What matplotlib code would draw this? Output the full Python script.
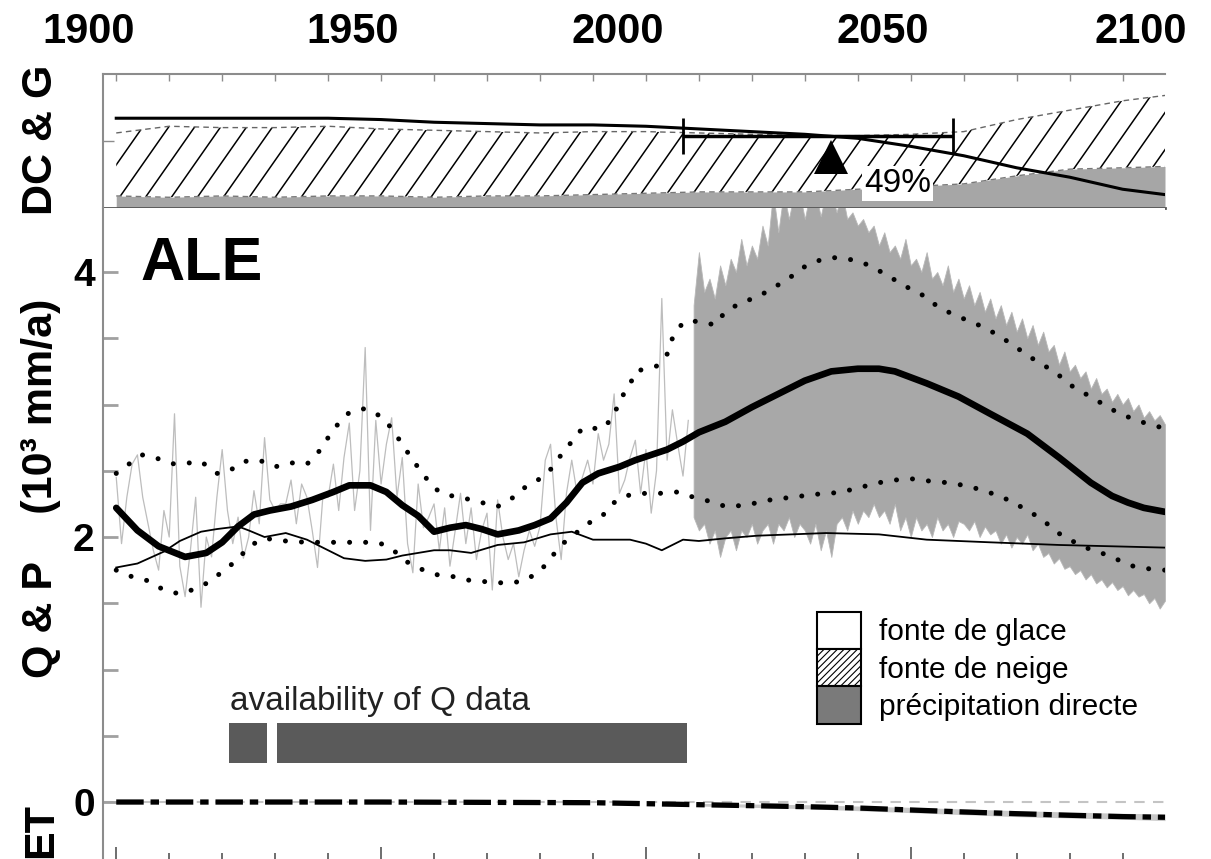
import numpy as np
import matplotlib
matplotlib.use("Agg")
import matplotlib.pyplot as plt
from matplotlib.patches import Patch
from matplotlib.collections import LineCollection
from matplotlib.transforms import blended_transform_factory

plt.rcParams['font.family'] = ['Liberation Sans', 'DejaVu Sans']
plt.rcParams['hatch.linewidth'] = 0.8

# ---------------- data ----------------
# top panel (DC & G): cumulative fractions of discharge contributions
top_years = [1900, 1910, 1920, 1930, 1940, 1950, 1960, 1970, 1980, 1990, 2000,
             2010, 2020, 2030, 2040, 2050, 2060, 2070, 2080, 2090, 2098]
frac_precip = [0.09, 0.08, 0.09, 0.08, 0.09, 0.09, 0.08, 0.09, 0.09, 0.10, 0.11,
               0.12, 0.12, 0.12, 0.14, 0.16, 0.18, 0.24, 0.29, 0.30, 0.31]
frac_snow_top = [0.56, 0.61, 0.60, 0.60, 0.61, 0.59, 0.58, 0.57, 0.56, 0.57, 0.57,
                 0.56, 0.55, 0.54, 0.54, 0.55, 0.57, 0.66, 0.73, 0.80, 0.84]
frac_glacier = [0.67, 0.67, 0.67, 0.67, 0.67, 0.66, 0.64, 0.63, 0.62, 0.62, 0.61,
                0.59, 0.57, 0.55, 0.52, 0.46, 0.39, 0.30, 0.23, 0.14, 0.10]
peak_year = 2035
peak_range = (2007, 2058)
peak_label = '49%'

# main panel: Q & P (10^3 mm/a)
hist_years = list(range(1900, 2009))
hist_q = [2.45, 1.95, 2.30, 2.55, 2.62, 2.30, 2.10, 1.90, 1.75, 2.20,
          2.00, 2.93, 1.78, 1.55, 1.90, 2.30, 1.47, 2.00, 1.85, 2.30,
          2.66, 2.20, 1.95, 2.15, 1.84, 2.00, 2.35, 2.10, 2.75, 2.28,
          2.20, 2.25, 2.25, 2.43, 2.10, 2.40, 2.30, 2.05, 1.77, 2.30,
          2.30, 2.55, 2.20, 2.60, 2.86, 2.20, 2.50, 3.43, 2.05, 2.88,
          2.40, 2.70, 2.90, 2.30, 2.60, 1.95, 1.73, 2.40, 2.07, 2.15,
          2.25, 1.90, 2.22, 1.78, 2.05, 2.33, 1.95, 2.22, 1.83, 2.05,
          2.18, 1.60, 2.28, 2.00, 1.83, 1.95, 1.70, 1.90, 2.05, 1.93,
          2.08, 2.58, 2.70, 2.15, 1.83, 2.33, 2.58, 2.33, 2.45, 2.58,
          2.40, 2.78, 2.58, 2.70, 3.08, 2.33, 2.43, 2.60, 2.73, 2.33,
          2.66, 2.18, 2.50, 3.80, 2.58, 2.96, 2.70, 2.46, 2.88]

ens_years = list(range(2009, 2099))
ens_hi = [3.75,
          4.15, 3.85, 3.95, 3.80, 4.05, 3.90, 4.10, 4.00, 4.25, 4.05,
          4.20, 4.10, 4.35, 4.20, 4.60, 4.30, 4.60, 4.40, 4.60, 4.60,
          4.40, 4.60, 4.60, 4.42, 4.60, 4.60, 4.45, 4.60, 4.40, 4.45,
          4.35, 4.40, 4.30, 4.35, 4.20, 4.30, 4.15, 4.20, 4.10, 4.25,
          4.05, 4.10, 4.00, 4.15, 3.95, 4.00, 3.90, 4.05, 3.85, 3.95,
          3.80, 3.90, 3.75, 3.85, 3.70, 3.80, 3.65, 3.75, 3.60, 3.70,
          3.55, 3.65, 3.50, 3.60, 3.45, 3.55, 3.40, 3.45, 3.30, 3.40,
          3.25, 3.30, 3.20, 3.25, 3.12, 3.20, 3.08, 3.12, 3.02, 3.08,
          3.00, 3.05, 2.95, 3.00, 2.90, 2.95, 2.88, 2.92, 2.85]
ens_lo = [2.15,
          2.05, 2.10, 1.95, 2.05, 1.85, 2.00, 2.05, 1.90, 2.05, 2.00,
          2.10, 1.95, 2.05, 2.10, 1.95, 2.10, 2.05, 2.15, 2.00, 2.10,
          2.05, 1.95, 2.10, 1.90, 2.05, 1.85, 2.10, 2.15, 2.05, 2.20,
          2.10, 2.20, 2.15, 2.25, 2.15, 2.20, 2.10, 2.25, 2.05, 2.15,
          2.00, 2.15, 2.05, 2.10, 2.00, 2.15, 2.05, 2.10, 2.00, 2.12,
          2.10, 2.05, 2.12, 2.00, 2.08, 2.02, 2.05, 1.95, 2.02, 1.92,
          2.00, 1.95, 2.02, 1.90, 1.95, 1.85, 1.88, 1.80, 1.84, 1.76,
          1.78, 1.72, 1.75, 1.68, 1.72, 1.65, 1.68, 1.62, 1.66, 1.60,
          1.63, 1.56, 1.60, 1.55, 1.57, 1.50, 1.54, 1.46, 1.52]

q_years = [1900, 1904, 1908, 1913, 1917, 1920, 1923, 1926, 1929, 1933, 1937, 1941,
           1944, 1948, 1951, 1954, 1957, 1960, 1963, 1966, 1969, 1972, 1976, 1979,
           1982, 1985, 1988, 1991, 1995, 1998, 2001, 2004, 2007, 2010, 2015, 2020,
           2025, 2030, 2035, 2040, 2044, 2047, 2053, 2059, 2065, 2072, 2078, 2084,
           2088, 2091, 2094, 2098]
q_smooth = [2.22, 2.05, 1.93, 1.85, 1.88, 1.96, 2.08, 2.17, 2.20, 2.23, 2.28, 2.34,
            2.39, 2.39, 2.34, 2.24, 2.16, 2.04, 2.07, 2.09, 2.06, 2.02, 2.05, 2.09,
            2.14, 2.26, 2.41, 2.48, 2.53, 2.58, 2.62, 2.66, 2.72, 2.79, 2.87, 2.98,
            3.08, 3.18, 3.25, 3.27, 3.27, 3.25, 3.16, 3.06, 2.93, 2.78, 2.60, 2.41,
            2.31, 2.26, 2.22, 2.19]

p_years = [1900, 1904, 1909, 1912, 1916, 1919, 1923, 1925, 1928, 1932, 1936, 1940,
           1943, 1947, 1951, 1954, 1960, 1963, 1967, 1972, 1977, 1982, 1986, 1990,
           1997, 2000, 2003, 2007, 2010, 2015, 2021, 2034, 2044, 2053, 2065, 2078,
           2098]
p_smooth = [1.77, 1.80, 1.89, 1.97, 2.04, 2.06, 2.08, 2.05, 2.00, 2.03, 1.98, 1.90,
            1.84, 1.82, 1.83, 1.86, 1.90, 1.90, 1.88, 1.94, 1.96, 2.02, 2.04, 1.98,
            1.98, 1.95, 1.90, 1.98, 1.97, 1.99, 2.01, 2.03, 2.02, 1.98, 1.96, 1.94,
            1.92]

up_years = [1900, 1902, 1905, 1908, 1911, 1914, 1916, 1919, 1921, 1924,
            1927, 1930, 1933, 1936, 1938, 1940, 1942, 1944, 1947, 1950,
            1952, 1954, 1956, 1958, 1960, 1962, 1965, 1969, 1972, 1975,
            1977, 1980, 1982, 1984, 1986, 1988, 1992, 1994, 1995, 1997,
            1998, 2002, 2004, 2005, 2007, 2010, 2013, 2015, 2018, 2021,
            2024, 2027, 2029, 2032, 2035, 2038, 2041, 2044, 2047, 2050,
            2053, 2055, 2058, 2061, 2064, 2067, 2070, 2072, 2075, 2078,
            2080, 2083, 2086, 2089, 2092, 2095, 2098]
up_vals = [2.48, 2.54, 2.62, 2.59, 2.55, 2.56, 2.57, 2.48, 2.49, 2.57,
           2.58, 2.53, 2.56, 2.55, 2.63, 2.75, 2.86, 2.94, 2.97, 2.91,
           2.82, 2.70, 2.58, 2.47, 2.37, 2.32, 2.30, 2.26, 2.23, 2.30,
           2.37, 2.44, 2.51, 2.62, 2.72, 2.82, 2.82, 2.92, 3.03, 3.15,
           3.25, 3.29, 3.38, 3.50, 3.62, 3.63, 3.60, 3.70, 3.77, 3.81,
           3.88, 3.95, 4.02, 4.08, 4.11, 4.10, 4.07, 4.01, 3.94, 3.87,
           3.81, 3.74, 3.68, 3.63, 3.58, 3.51, 3.43, 3.37, 3.30, 3.22,
           3.15, 3.08, 3.01, 2.94, 2.89, 2.85, 2.82]

lo_years = [1900, 1903, 1906, 1909, 1912, 1915, 1918, 1920, 1923, 1925,
            1928, 1932, 1936, 1940, 1944, 1948, 1950, 1953, 1955, 1958,
            1961, 1964, 1967, 1971, 1974, 1977, 1980, 1982, 1984, 1989,
            1992, 1994, 1997, 2000, 2003, 2006, 2009, 2013, 2015, 2019,
            2022, 2025, 2028, 2031, 2035, 2038, 2041, 2044, 2047, 2050,
            2054, 2057, 2060, 2063, 2066, 2069, 2072, 2075, 2077, 2080,
            2083, 2086, 2089, 2092, 2095, 2098]
lo_vals = [1.75, 1.70, 1.67, 1.60, 1.57, 1.61, 1.67, 1.74, 1.83, 1.93,
           1.99, 1.97, 1.96, 1.96, 1.96, 1.96, 1.95, 1.88, 1.81, 1.75,
           1.71, 1.70, 1.67, 1.66, 1.65, 1.67, 1.74, 1.84, 1.94, 2.10,
           2.17, 2.26, 2.32, 2.33, 2.33, 2.34, 2.30, 2.26, 2.23, 2.24,
           2.27, 2.29, 2.30, 2.32, 2.33, 2.35, 2.38, 2.41, 2.43, 2.44,
           2.42, 2.41, 2.39, 2.36, 2.32, 2.27, 2.20, 2.13, 2.05, 1.98,
           1.92, 1.88, 1.83, 1.78, 1.76, 1.75]

# evapotranspiration
et_years = [1900, 1950, 1990, 2010, 2030, 2040, 2050, 2060, 2070, 2080, 2090, 2098]
et_vals = [0.0, 0.0, -0.005, -0.02, -0.035, -0.045, -0.06, -0.075, -0.088, -0.10, -0.11, -0.115]
et_band_years = [2010, 2030, 2050, 2070, 2090, 2098]
et_band_lo = [-0.03, -0.05, -0.08, -0.11, -0.13, -0.14]
et_band_hi = [-0.01, -0.02, -0.04, -0.065, -0.085, -0.09]

# availability of Q data
q_avail = [(1921.2, 1928.4), (1930.3, 2007.7)]

top_tick_years = [1900, 1950, 2000, 2050, 2100]
top_tick_labels = ['1900', '1950', '2000', '2050', '2100']
legend_labels = ['fonte de glace', 'fonte de neige', 'précipitation directe']

# ---------------- figure ----------------
W, H = 1211, 859
fig = plt.figure(figsize=(W / 100, H / 100), dpi=100)


def px_rect(x0, y0, x1, y1):
    return [x0 / W, 1 - y1 / H, (x1 - x0) / W, (y1 - y0) / H]


XLIM = (1897.5, 2098)
GRID = '#8c8c8c'

# ---- top panel ----
axt = fig.add_axes(px_rect(103, 74, 1165, 208))
axt.set_xlim(*XLIM)
axt.set_ylim(0, 1)
axt.fill_between(top_years, 0, frac_precip, color='#a6a6a6', lw=0, zorder=1)
hpoly = axt.fill_between(top_years, frac_precip, frac_snow_top, facecolor='white', lw=0, zorder=1)
# sparse diagonal hatch (style only)
step, run = 4.9, 17.7
segs = [[(x0, 0.0), (x0 + run, 1.0)] for x0 in np.arange(1860, 2100, step)]
lc = LineCollection(segs, colors='k', linewidths=1.1, zorder=2)
axt.add_collection(lc)
lc.set_clip_path(hpoly.get_paths()[0], axt.transData)
axt.plot(top_years, frac_snow_top, color='#666666', lw=1.0, ls=(0, (4, 3)), zorder=3)
axt.plot(top_years, frac_precip, color='#777777', lw=1.0, ls=(0, (4, 3)), zorder=3)
axt.plot(top_years, frac_glacier, color='k', lw=2.2, zorder=4)
axt.errorbar([peak_year], [0.54], xerr=[[peak_year - peak_range[0]], [peak_range[1] - peak_year]],
             fmt='none', ecolor='k', elinewidth=2.5, capsize=13, capthick=2, zorder=5)
axt.plot([peak_year], [0.38], marker='^', ms=25, color='k', mew=0, zorder=5)
axt.text(2047.5, 0.18, peak_label, ha='center', va='center', fontsize=24, zorder=6,
         bbox=dict(facecolor='white', edgecolor='none', pad=1.5))
axt.spines['right'].set_visible(False)
for s in ['top', 'left']:
    axt.spines[s].set_color(GRID)
    axt.spines[s].set_linewidth(1.5)
axt.spines['bottom'].set_color('#555555')
axt.spines['bottom'].set_linewidth(2)
axt.set_xticks(np.arange(1900, 2100, 10))
axt.tick_params(axis='x', direction='in', top=True, bottom=False, labeltop=False,
                labelbottom=False, length=5, width=1, color=GRID)
axt.set_yticks([0.5])
axt.tick_params(axis='y', direction='in', length=8, width=1, color=GRID, labelleft=False)

trans = blended_transform_factory(axt.transData, fig.transFigure)
for yr, lab in zip(top_tick_years, top_tick_labels):
    axt.text(min(yr - 5.3, 2093.5), 1 - 43 / H, lab, transform=trans, ha='center',
             va='baseline', fontsize=30, fontweight='bold', clip_on=False)

# ---- main panel ----
ax = fig.add_axes(px_rect(103, 208, 1165, 861))
ax.set_xlim(*XLIM)
ax.set_ylim(-0.445, 4.483)
ax.plot(hist_years, hist_q, color='#bdbdbd', lw=0.9, zorder=1)
ax.fill_between(ens_years, ens_lo, ens_hi, color='#a8a8a8', lw=0.6, edgecolor='#b8b8b8', zorder=1)
ax.plot(p_years, p_smooth, color='k', lw=1.3, zorder=3)
for yy, vv in [(up_years, up_vals), (lo_years, lo_vals)]:
    ax.plot(yy, vv, color='k', lw=3.6, ls=(0, (0.01, 3.2)), dash_capstyle='round', zorder=4)
ax.plot(q_years, q_smooth, color='k', lw=4.8, solid_capstyle='round', zorder=5)

# ET
ax.plot(XLIM, [0, 0], color='#c4c4c4', lw=1.5, ls=(0, (5, 4)), zorder=1)
ax.fill_between(et_band_years, et_band_lo, et_band_hi, color='#c8c8c8', lw=0, zorder=2)
ax.plot(et_years, et_vals, color='k', lw=3.8, ls=(0, (5.2, 1.3, 1.6, 1.3)), zorder=5)

# availability bar
ax.broken_barh([(a, b - a) for a, b in q_avail], (0.295, 0.30), facecolors='#5a5a5a', zorder=2)
fig.text(230 / W, 1 - 710 / H, 'availability of Q data', fontsize=24, color='#222222',
         ha='left', va='baseline')

for s in ['top', 'right', 'bottom']:
    ax.spines[s].set_visible(False)
ax.spines['left'].set_color(GRID)
ax.spines['left'].set_linewidth(1.5)
yt = np.arange(0, 4.01, 0.5)
ax.set_yticks(yt)
ax.set_yticklabels([('%d' % v) if v in (0, 2, 4) else '' for v in yt],
                   fontsize=28, fontweight='bold')
ax.tick_params(axis='y', direction='in', length=11, width=2, color='#a0a0a0', pad=6)
ax.set_xticks(np.arange(1900, 2100, 50))
ax.set_xticks(np.arange(1900, 2100, 10), minor=True)
ax.tick_params(axis='x', which='major', direction='in', length=10, width=1.2, color='#555555',
               labelbottom=False)
ax.tick_params(axis='x', which='minor', direction='in', length=6, width=1.2, color='#555555')

ax.text(140 / W, 1 - 280 / H, 'ALE', transform=fig.transFigure, fontsize=44,
        fontweight='bold', ha='left', va='baseline')

# legend
fs = 21.5
fpx = fs * 100 / 72
handles = [Patch(facecolor='white', edgecolor='black', lw=1.5),
           Patch(facecolor='white', edgecolor='black', hatch='/////', lw=1.5),
           Patch(facecolor='#7a7a7a', edgecolor='black', lw=1.5)]
fig.legend(handles, legend_labels, loc='upper left', bbox_to_anchor=(817 / W, 1 - 612 / H),
           frameon=False, fontsize=fs, handlelength=44 / fpx, handleheight=46 / fpx,
           handletextpad=18 / fpx, labelspacing=0, borderpad=0, borderaxespad=0)

# axis labels
fig.text(41 / W, 1 - 140 / H, 'DC & G', rotation=90, fontsize=31, fontweight='bold',
         ha='center', va='center')
fig.text(41.5 / W, 1 - 488 / H, 'Q & P    (10³ mm/a)', rotation=90, fontsize=31,
         fontweight='bold', ha='center', va='center')
fig.text(41.5 / W, 1 - 830 / H, 'ET', rotation=90, fontsize=31, fontweight='bold',
         ha='center', va='center')

fig.savefig('out.png', dpi=100)
